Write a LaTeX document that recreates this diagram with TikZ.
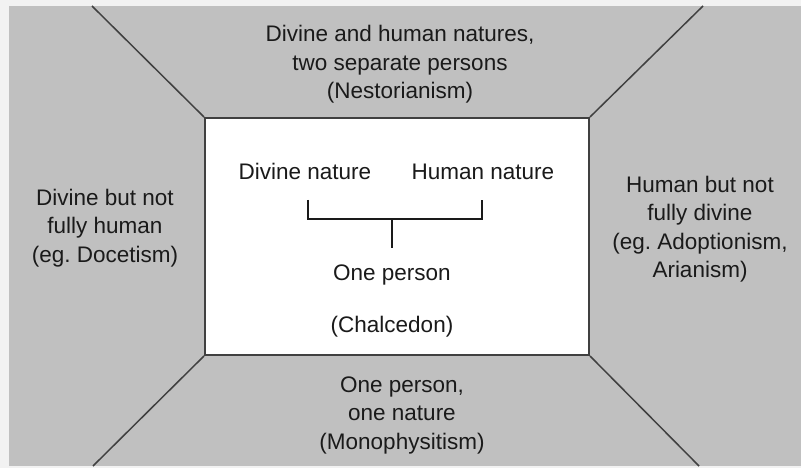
\documentclass[tikz,border=0pt]{standalone}
\usepackage{fontspec}
\setmainfont{Liberation Sans}
\frenchspacing
\definecolor{panel}{HTML}{C0C0C0}
\definecolor{edgecol}{HTML}{F2F2F2}
\definecolor{ink}{HTML}{1A1A1A}
\definecolor{rulecol}{HTML}{404040}
\begin{document}
\begin{tikzpicture}[x=1pt,y=-1pt,
  lbl/.style={font=\fontsize{22.5}{28.5}\selectfont, align=center, inner sep=0pt, text=ink, anchor=base},
  diag/.style={draw=rulecol, line width=1.5pt},
  brace/.style={draw=ink, line width=2pt}]
\useasboundingbox (0,0) rectangle (801,468);
\fill[edgecol] (0,0) rectangle (801,468);
\fill[panel] (9,6) rectangle (801,466);
\node[draw=rulecol, line width=2pt, fill=white, minimum width=384pt, minimum height=237pt, inner sep=0pt] (core) at (397,236.5) {};
\coordinate (tl) at (92,6);
\coordinate (tr) at (703,6);
\coordinate (bl) at (93,466);
\coordinate (br) at (699,466);
\draw[diag] (core.north west) -- (tl);
\draw[diag] (core.north east) -- (tr);
\draw[diag] (core.south west) -- (bl);
\draw[diag] (core.south east) -- (br);
% multi-line nodes: base anchor sits on the last line's baseline
\node[lbl] (top) at (400,99) {Divine and human natures,\\two separate persons\\(Nestorianism)};
\node[lbl] (left) at (105,262) {Divine but not\\fully human\\(eg. Docetism)};
\node[lbl] (right) at (700,277.5) {Human but not\\fully divine\\(eg. Adoptionism,\\Arianism)};
\node[lbl] (bottom) at (402,449) {One person,\\one nature\\(Monophysitism)};
\node[lbl] (dn) at (305,180) {Divine nature};
\node[lbl] (hn) at (483,180) {Human nature};
\node[lbl] (op) at (392,280) {One person};
\node[lbl] (ch) at (392,332) {(Chalcedon)};
\coordinate (bl1) at (308,200);
\coordinate (br1) at (482,200);
\coordinate (bm) at (392,219);
\coordinate (stem) at (392,248);
\draw[brace] (bl1) |- (bm) -| (br1);
\draw[brace] (bm) -- (stem);
\end{tikzpicture}
\end{document}
